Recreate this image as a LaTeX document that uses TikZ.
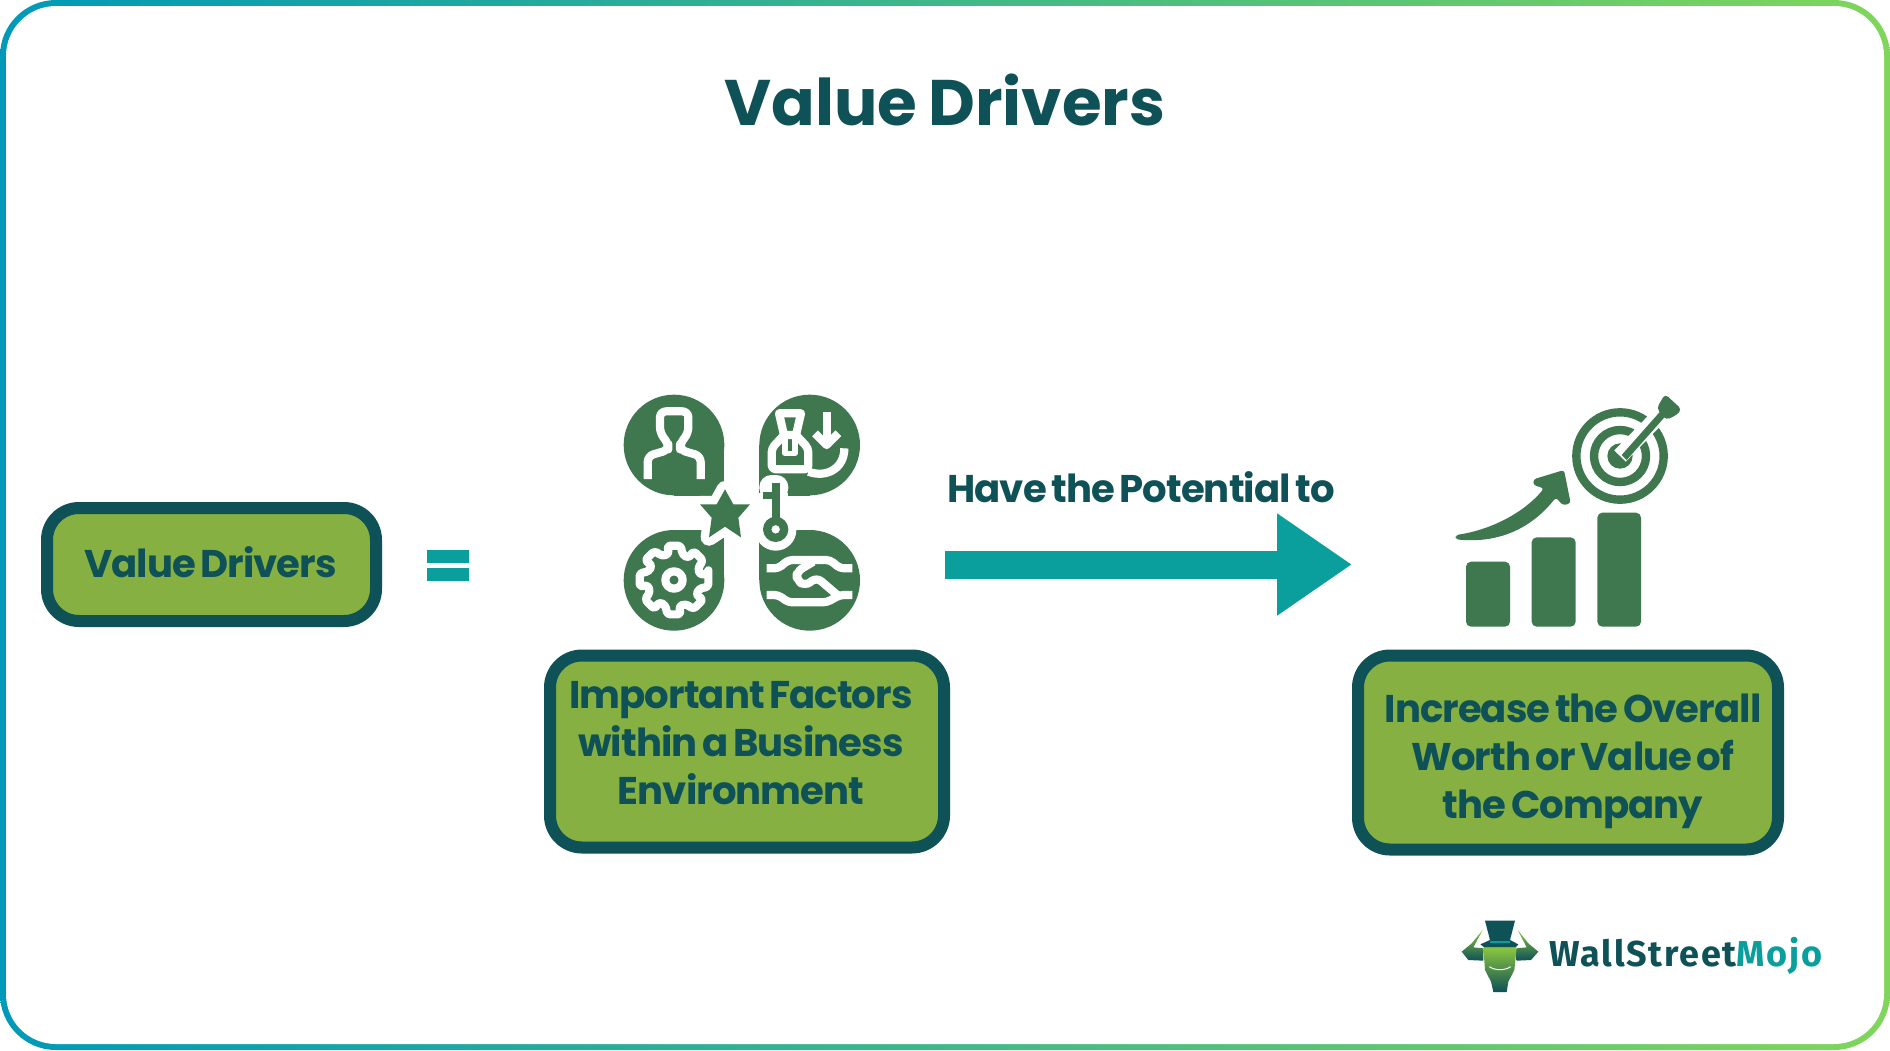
\documentclass[tikz,border=0pt]{standalone}
\usepackage{fontspec}
\usetikzlibrary{arrows.meta}
\setmainfont{Poppins}[LetterSpace=-2.5,WordSpace=0.65]
\newfontfamily\titlefont{Poppins}[WordSpace=0.8]
\newfontfamily\logofont{Fira Sans}[LetterSpace=4.8]

\definecolor{darkteal}{HTML}{0E5157}
\definecolor{boxgreen}{HTML}{86B041}
\definecolor{iconmid}{HTML}{3F774E}
\definecolor{arrowteal}{HTML}{0A9E9D}
\definecolor{frameleft}{HTML}{0099B8}
\definecolor{framemid}{HTML}{2BB185}
\definecolor{frameright}{HTML}{7FD65A}
\definecolor{logogreen}{HTML}{8CC63F}

\tikzset{
  valuebox/.style={rectangle, rounded corners=16pt, draw=darkteal, fill=boxgreen, line width=6pt},
  boxtext/.style={text=darkteal, font=\fontsize{19.3}{24}\selectfont\bfseries, align=center, inner sep=0pt},
  iconline/.style={draw=white, line width=4.1pt, line join=round},
}

\begin{document}
\begin{tikzpicture}[x=0.5pt,y=-0.5pt]
  \useasboundingbox (0,0) rectangle (1890,1050);
  % frame
  \shade[left color=frameleft, middle color=framemid, right color=frameright, rounded corners=28pt] (0,0) rectangle (1890,1050);
  \fill[white, rounded corners=25pt] (6,6) rectangle (1884,1044);

  \node (title) [text=darkteal, font=\titlefont\fontsize{32.2}{33}\selectfont\bfseries, inner sep=0pt] at (945,100) {Value Drivers};

  % boxes
  \node (driversbox) [valuebox, minimum width=164.5pt, minimum height=56.5pt] at (211.5,564.5) {};
  \node (driverstext) [boxtext] at (210.5,562) {Value Drivers};
  \node (factorsbox) [valuebox, minimum width=197pt, minimum height=96pt] at (747,751.5) {};
  \node (factorstext) [boxtext] at (741,743) {Important Factors\\within a Business\\Environment};
  \node (increasebox) [valuebox, minimum width=210pt, minimum height=97pt] at (1568,752.5) {};
  \node (increasetext) [boxtext] at (1573,761) {Increase the Overall\\Worth or Value of\\the Company};

  % equals
  \fill[arrowteal] (427,550) rectangle (469,563);
  \fill[arrowteal] (427,568) rectangle (469,581);

  % arrow
  \coordinate (arrowstart) at (945,564.5);
  \coordinate (arrowend) at (1352,564.5);
  \draw[arrowteal, line width=14pt, -{Triangle[length=37.5pt,width=48.5pt]}] (arrowstart) -- (arrowend);
  \node (potential) [boxtext] at (1141,487) {Have the Potential to};

  % four petals
  \begin{scope}[shift={(600,380)},x=0.16667pt,y=-0.16667pt]
    \fill[iconmid] (373,195) arc[start angle=0,end angle=360,radius=151];
    \fill[iconmid] (222,195) rectangle (373,347);
    \fill[iconmid] (780,195) arc[start angle=0,end angle=360,radius=151];
    \fill[iconmid] (478,195) rectangle (629,347);
    \fill[iconmid] (373,601) arc[start angle=0,end angle=360,radius=151];
    \fill[iconmid] (222,450) rectangle (373,601);
    \fill[iconmid] (780,601) arc[start angle=0,end angle=360,radius=151];
    \fill[iconmid] (478,450) rectangle (629,601);
    % person
    \draw[iconline, rounded corners=3pt] (143,297) -- (143,228) -- (205,210) -- (205,190) -- (180,160) -- (180,94) -- (265,94) -- (265,160) -- (240,190) -- (240,210) -- (302,228) -- (302,297);
    % bag and hand
    \draw[iconline, rounded corners=2pt] (552,165) -- (515,205) -- (515,268) -- (625,268) -- (625,205) -- (588,165);
    \draw[iconline] (552,165) -- (537,100) -- (603,100) -- (588,165) -- cycle;
    \draw[iconline, line width=2.6pt] (555,165) -- (555,220) -- (585,220) -- (585,165);
    \draw[iconline] (680,95) -- (680,195);
    \draw[iconline] (645,160) -- (680,195) -- (715,160);
    \draw[iconline] (733,205) .. controls (733,265) and (680,295) .. (625,275);
    % gear
    \begin{scope}[shift={(222,600)}]
      \draw[iconline, rounded corners=1.5pt] (-11:105) \foreach \a in {0,45,...,315} { -- (\a-11:105) -- (\a+11:105) -- (\a+19:80) -- (\a+34:80) } -- cycle;
      \draw[iconline] (0,0) circle[radius=26];
    \end{scope}
    % handshake
    \draw[iconline, rounded corners=2pt] (500,565) -- (535,565) -- (565,540) -- (690,540) -- (720,565) -- (757,565);
    \draw[iconline, rounded corners=2pt] (500,645) -- (535,645) -- (565,667) -- (680,667) -- (720,645) -- (757,645);
    \draw[iconline, rounded corners=3pt] (640,545) -- (590,575) -- (590,600) -- (615,618) -- (650,592) -- (712,645);
    % star
    \draw[draw=white, fill=white, line width=8.4pt, line join=round] (375,328) -- (400,373) -- (450,373) -- (415,413) -- (423,472) -- (375,440) -- (327,472) -- (335,413) -- (300,373) -- (350,373) -- cycle;
    \fill[iconmid] (375,328) -- (400,373) -- (450,373) -- (415,413) -- (423,472) -- (375,440) -- (327,472) -- (335,413) -- (300,373) -- (350,373) -- cycle;
    % key
    \fill[white, rounded corners=6pt] (478,285) rectangle (565,360);
    \fill[white] (478,340) rectangle (565,450);
    \fill[white] (527,450) circle[radius=62];
    \fill[iconmid] (515,310) rectangle (540,430);
    \fill[iconmid] (490,335) rectangle (515,358);
    \fill[iconmid, even odd rule] (527,448) circle[radius=38] circle[radius=13];
  \end{scope}

  % target and bars
  \begin{scope}[shift={(1430,380)},x=0.16667pt,y=-0.16667pt]
    \fill[iconmid, rounded corners=2.5pt] (108,545) rectangle (240,740);
    \fill[iconmid, rounded corners=2.5pt] (305,472) rectangle (437,740);
    \fill[iconmid, rounded corners=2.5pt] (502,398) rectangle (633,740);
    \draw[iconmid, line width=4.2pt] (570,228) circle[radius=131];
    \draw[iconmid, line width=4.2pt] (570,228) circle[radius=78];
    \fill[iconmid] (570,228) circle[radius=38];
    \draw[white, line width=8pt] (570,228) -- (695,100);
    \fill[iconmid] (575,225) -- (690,95) -- (705,110) -- (590,240) -- cycle;
    \fill[iconmid, rounded corners=2pt] (680,85) -- (705,42) -- (755,88) -- (740,105) -- (708,120) -- cycle;
    % curved arrow
    \fill[iconmid, rounded corners=1.5pt] (77,465) .. controls (180,450) and (280,400) .. (342,325) -- (310,315) -- (310,298) -- (402,270) -- (422,370) -- (398,376) -- (378,352) .. controls (300,450) and (200,490) .. (77,478) -- cycle;
  \end{scope}

  % logo
  \begin{scope}[shift={(1455,910)},x=0.16667pt,y=-0.16667pt]
    \shade[top color=logogreen, bottom color=darkteal] (83,60) -- (50,100) -- (20,125) -- (40,150) -- (85,152) -- (85,115) -- (55,112) -- cycle;
    \shade[top color=logogreen, bottom color=darkteal] (188,60) -- (220,100) -- (250,125) -- (228,150) -- (185,152) -- (185,115) -- (215,112) -- cycle;
    \shade[top color=logogreen, middle color=logogreen, bottom color=darkteal] (85,112) -- (185,112) -- (178,180) -- (160,215) -- (155,246) -- (115,246) -- (108,215) -- (90,180) -- cycle;
    \fill[darkteal] (90,32) -- (180,32) -- (165,90) -- (190,103) -- (182,112) -- (88,112) -- (76,103) -- (105,90) -- cycle;
    \draw[arrowteal, line width=1pt] (104,97) -- (166,97);
    \draw[white, line width=0.5pt] (103,170) .. controls (120,182) and (150,182) .. (167,170);
  \end{scope}
  \node (logotext) [font=\logofont\fontsize{18}{18}\selectfont\bfseries, text=darkteal, inner sep=0pt, anchor=base west] at (1549,966) {WallStreet\textcolor{arrowteal}{Mojo}};
\end{tikzpicture}
\end{document}
